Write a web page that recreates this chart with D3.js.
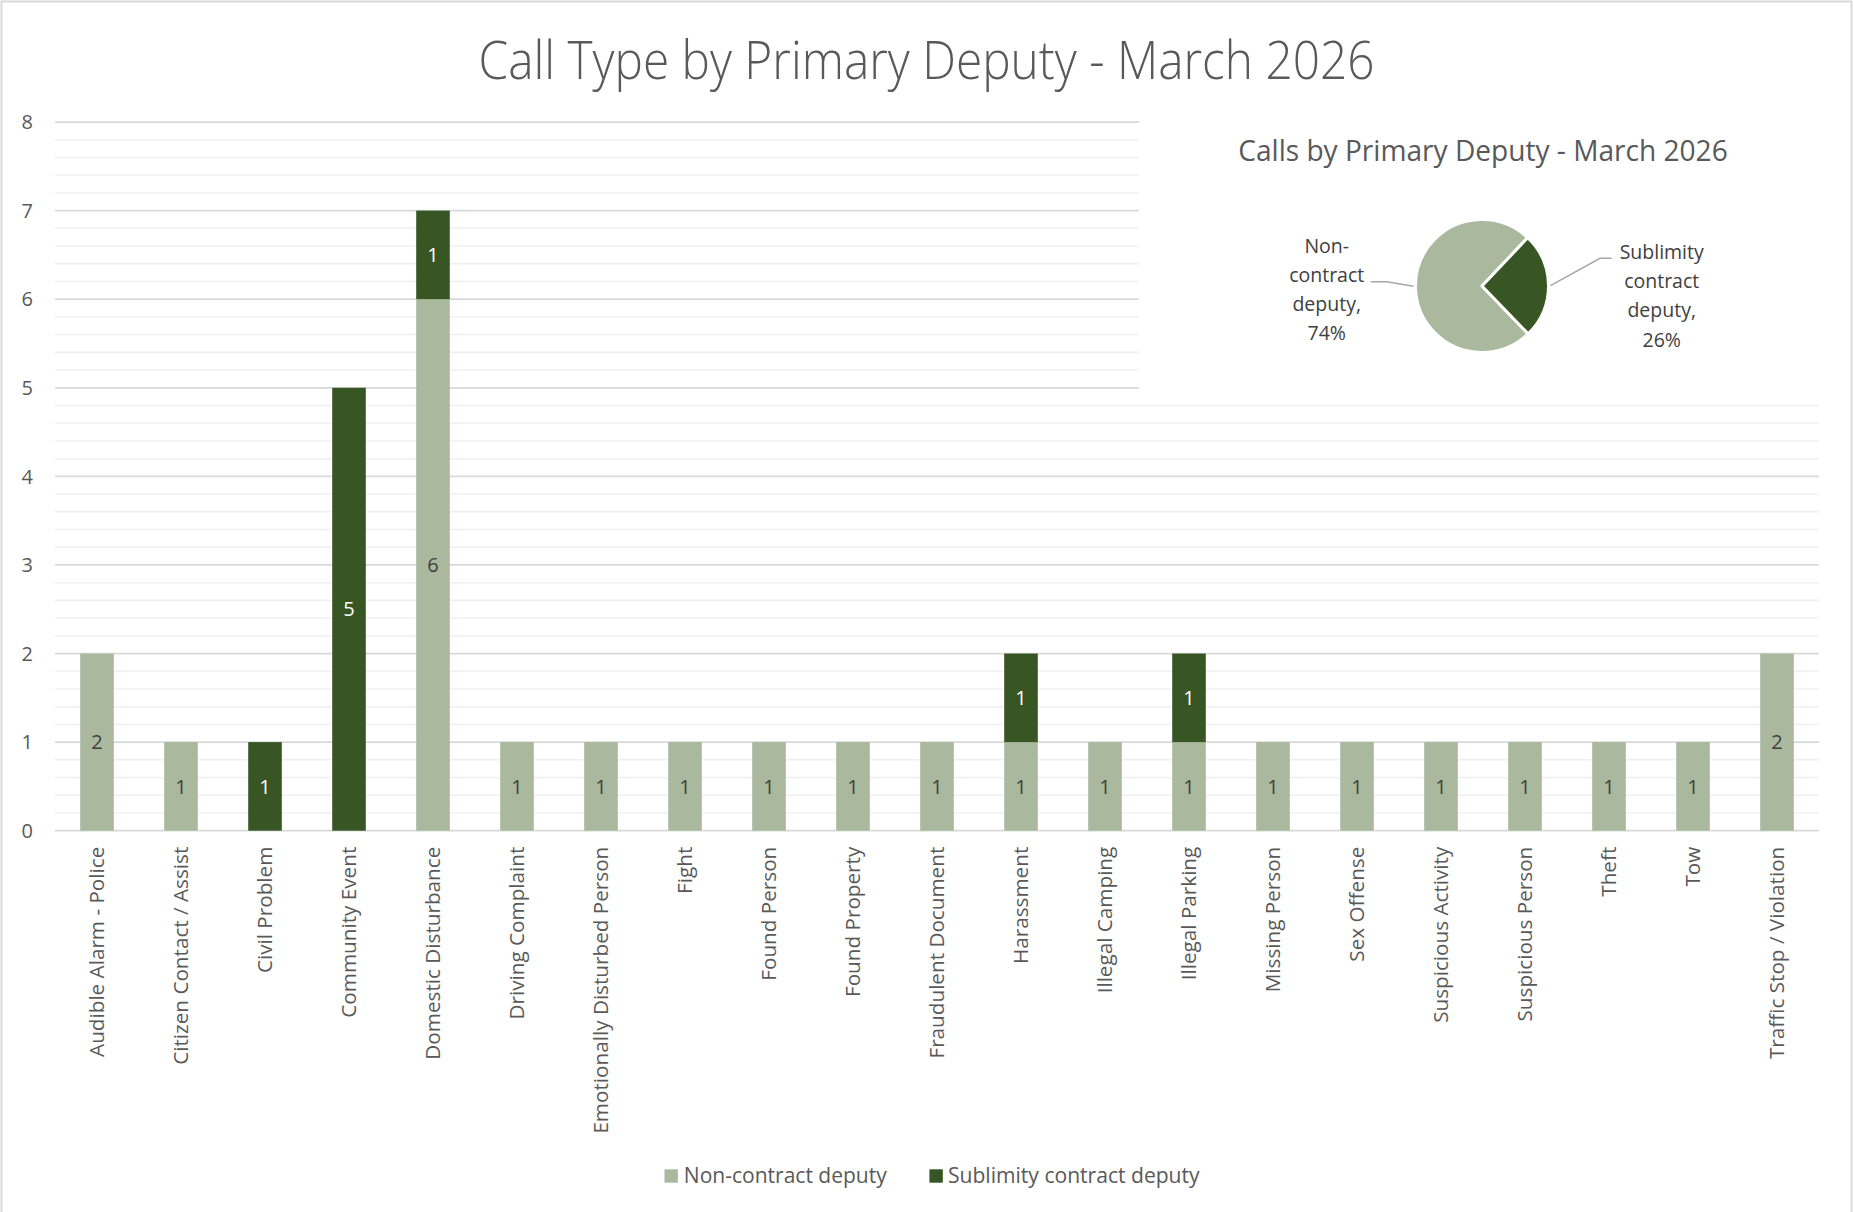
<!DOCTYPE html>
<html>
<head>
<meta charset="utf-8">
<script src="https://cdn.jsdelivr.net/npm/d3@7"></script>
<style>
  html, body { margin: 0; padding: 0; background: #ffffff; }
  svg { display: block; }
  text { font-family: "Open Sans", "Noto Sans", "DejaVu Sans", sans-serif; }
</style>
</head>
<body>
<svg id="chart" width="1853" height="1212"></svg>
<script>
// ---------------- DATA ----------------
const categories = [
  "Audible Alarm - Police", "Citizen Contact / Assist", "Civil Problem", "Community Event",
  "Domestic Disturbance", "Driving Complaint", "Emotionally Disturbed Person", "Fight",
  "Found Person", "Found Property", "Fraudulent Document", "Harassment", "Illegal Camping",
  "Illegal Parking", "Missing Person", "Sex Offense", "Suspicious Activity", "Suspicious Person",
  "Theft", "Tow", "Traffic Stop / Violation"
];
const seriesNames = ["Non-contract deputy", "Sublimity contract deputy"];
const nonContract = [2, 1, 0, 0, 6, 1, 1, 1, 1, 1, 1, 1, 1, 1, 1, 1, 1, 1, 1, 1, 2];
const sublimity   = [0, 0, 1, 5, 1, 0, 0, 0, 0, 0, 0, 1, 0, 1, 0, 0, 0, 0, 0, 0, 0];
const yTicks = [0, 1, 2, 3, 4, 5, 6, 7, 8];
const chartTitle = "Call Type by Primary Deputy - March 2026";
const pieTitle = "Calls by Primary Deputy - March 2026";
const pieLabelLines = [["Non-", "contract", "deputy,"], ["Sublimity", "contract", "deputy,"]];

// ---------------- STYLE ----------------
const colors = ["#AAB99E", "#375623"];
const labelColors = ["#404040", "#FFFFFF"];
const textGrey = "#595959";

const svg = d3.select("#chart");
const W = 1853, H = 1212;

// chart border
svg.append("rect").attr("x", 1.5).attr("y", 1.5).attr("width", W - 3).attr("height", H + 10)
  .attr("fill", "#fff").attr("stroke", "#D9D9D9").attr("stroke-width", 2);

function fitWidth(sel, w) {
  sel.attr("textLength", w).attr("lengthAdjust", "spacingAndGlyphs");
}

// title
svg.append("text").attr("x", 926.5).attr("y", 79).attr("text-anchor", "middle")
  .attr("font-size", 53).attr("font-weight", 300).attr("fill", textGrey)
  .text(chartTitle).call(fitWidth, 896);

// scales
const x = d3.scaleBand().domain(categories).range([55, 1819]).paddingInner(0.6).paddingOuter(0.3);
const y = d3.scaleLinear().domain([0, 8]).range([830.7, 122]);

// gridlines
const minor = d3.range(0, 40).map(i => i / 5).filter(v => !yTicks.includes(v));
svg.append("g").selectAll("line").data(minor).join("line")
  .attr("x1", 55).attr("x2", 1819).attr("y1", d => y(d)).attr("y2", d => y(d))
  .attr("stroke", "#F0F0F0").attr("stroke-width", 1.5);
svg.append("g").selectAll("line").data(yTicks).join("line")
  .attr("x1", 55).attr("x2", 1819).attr("y1", d => y(d)).attr("y2", d => y(d))
  .attr("stroke", "#D9D9D9").attr("stroke-width", 1.75);

// y tick labels
svg.append("g").selectAll("text").data(yTicks).join("text")
  .attr("x", 33).attr("y", d => y(d)).attr("dy", "0.36em").attr("text-anchor", "end")
  .attr("font-size", 20).attr("fill", textGrey).text(d => d);

// stacked bars
const table = categories.map((c, i) => ({ cat: c, nc: nonContract[i], sub: sublimity[i] }));
const stacked = d3.stack().keys(["nc", "sub"])(table);
const layers = svg.append("g").selectAll("g").data(stacked).join("g")
  .attr("fill", (d, i) => colors[i]);
layers.selectAll("rect").data(d => d).join("rect")
  .attr("x", d => x(d.data.cat)).attr("width", x.bandwidth())
  .attr("y", d => y(d[1])).attr("height", d => y(d[0]) - y(d[1]));

// value labels
stacked.forEach((layer, li) => {
  svg.append("g").selectAll("text").data(layer.filter(d => d[1] - d[0] > 0)).join("text")
    .attr("x", d => x(d.data.cat) + x.bandwidth() / 2)
    .attr("y", d => y((d[0] + d[1]) / 2)).attr("dy", "0.36em")
    .attr("text-anchor", "middle").attr("font-size", 20).attr("fill", labelColors[li])
    .text(d => d[1] - d[0]);
});

// category labels
const catG = svg.append("g");
const catTexts = catG.selectAll("text").data(categories).join("text")
  .attr("transform", d => `translate(${x(d) + x.bandwidth() / 2},846.7) rotate(-90)`)
  .attr("dy", "0.36em").attr("text-anchor", "end").attr("font-size", 20)
  .attr("fill", textGrey).text(d => d);
// scale font so that the longest label matches the reference length
const refNode = catTexts.filter(d => d === "Emotionally Disturbed Person").node();
const measured = refNode.getComputedTextLength();
const catSize = 20 * 287 / measured;
catTexts.attr("font-size", catSize);

// legend
const legendPos = [{ sx: 664.5, tx: 683.8, w: 203 }, { sx: 929.4, tx: 948, w: 251.6 }];
const leg = svg.append("g");
seriesNames.forEach((name, i) => {
  leg.append("rect").attr("x", legendPos[i].sx).attr("y", 1169.3).attr("width", 13.4).attr("height", 13.4)
    .attr("fill", colors[i]);
  leg.append("text").attr("x", legendPos[i].tx).attr("y", 1183.3).attr("font-size", 21)
    .attr("fill", textGrey).text(name).call(fitWidth, legendPos[i].w);
});

// ---------------- PIE (overlay chart) ----------------
svg.append("rect").attr("x", 1139).attr("y", 95).attr("width", 695).attr("height", 303).attr("fill", "#fff");
svg.append("text").attr("x", 1483).attr("y", 160.7).attr("text-anchor", "middle")
  .attr("font-size", 29).attr("fill", textGrey).text(pieTitle).call(fitWidth, 489.5);

const pieValues = [d3.sum(nonContract), d3.sum(sublimity)];
const total = d3.sum(pieValues);
const cx = 1482, cy = 286, R = 66.5;
const start = 136 * Math.PI / 180;
const pie = d3.pie().sort(null).startAngle(start).endAngle(start + 2 * Math.PI);
const arcs = pie(pieValues);
const arc = d3.arc().innerRadius(0).outerRadius(R);
const pg = svg.append("g").attr("transform", `translate(${cx},${cy})`);
pg.selectAll("path").data(arcs).join("path")
  .attr("d", arc).attr("fill", (d, i) => colors[i])
  .attr("stroke", "#fff").attr("stroke-width", 3).attr("stroke-linejoin", "round");

// pie labels and leader lines
const labelCfg = [
  { x: -155.3, ys: [-32.7, -3.7, 25, 54], line: (p) => [p, [-95.3, -4.3], [-111.3, -4.3]] },
  { x: 179.7, ys: [-26.7, 2.3, 31.3, 60.7], line: (p) => [p, [118, -27.7], [129.7, -27.7]] }
];
arcs.forEach((a, i) => {
  const mid = (a.startAngle + a.endAngle) / 2;
  const p = [Math.sin(mid) * (R + 2), -Math.cos(mid) * (R + 2)];
  pg.append("path").attr("d", d3.line()(labelCfg[i].line(p)))
    .attr("fill", "none").attr("stroke", "#A6A6A6").attr("stroke-width", 1.5);
  const pct = Math.round(pieValues[i] / total * 100) + "%";
  const lines = pieLabelLines[i].concat([pct]);
  const t = pg.append("text").attr("text-anchor", "middle").attr("font-size", 19.5).attr("fill", "#404040");
  lines.forEach((ln, k) => {
    t.append("tspan").attr("x", labelCfg[i].x).attr("y", labelCfg[i].ys[k]).text(ln);
  });
});
</script>
</body>
</html>
